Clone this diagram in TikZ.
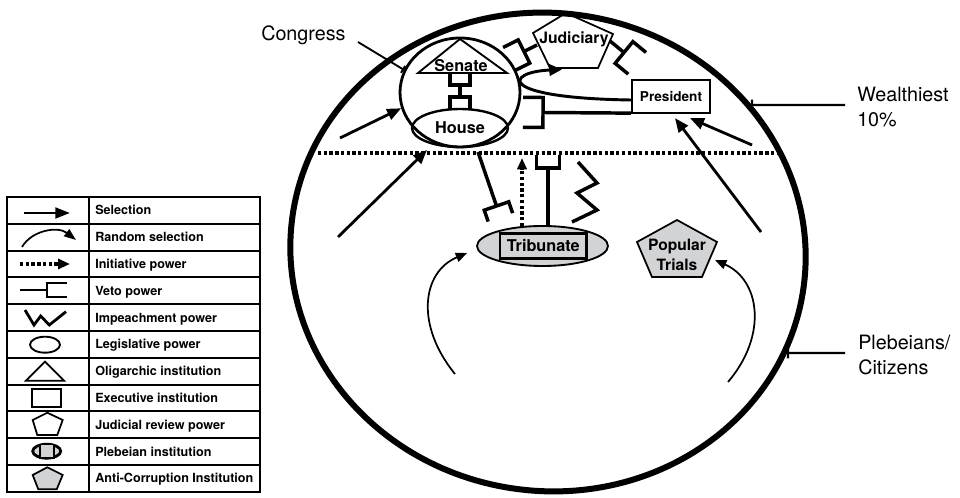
\documentclass[tikz,border=0pt]{standalone}
\usepackage{fontspec}
\setmainfont{TeX Gyre Heros}
\usetikzlibrary{arrows.meta,shapes.geometric,calc,intersections}
\definecolor{instgrey}{RGB}{210,211,213}

% veto symbol: stem from #2 to the bar centred at #3,
% bar half width #4, prongs of length #5 pointing away from #2
\newcommand\vetomark[5][vetoline]{%
  \draw[#1] (#2) -- (#3);
  \coordinate (vm-a) at ($(#3)!#4!90:(#2)$);
  \coordinate (vm-b) at ($(#3)!#4!-90:(#2)$);
  \coordinate (vm-p) at ($(#3)!#5!180:(#2)$);
  \coordinate (vm-c) at ($(vm-p)!#4!90:(#3)$);
  \coordinate (vm-d) at ($(vm-p)!#4!-90:(#3)$);
  \draw[#1] (vm-c) -- (vm-a) -- (vm-b) -- (vm-d);
}

\begin{document}
\begin{tikzpicture}[x=0.75pt,y=-0.75pt,
  bigoval/.style={line width=4.5pt},
  vetoline/.style={line width=2.6pt, line join=miter, line cap=butt},
  legveto/.style={line width=1.7pt, line join=miter},
  selarrow/.style={line width=2.1pt, -{Triangle[length=10.5pt,width=8.5pt]}},
  randarrow/.style={line width=1.3pt, -{Triangle[length=8.5pt,width=7pt]}},
  randthick/.style={line width=2.2pt, -{Triangle[length=9.5pt,width=8.5pt]}},
  dotline/.style={line width=2.5pt, dash pattern=on 2.5pt off 1.8pt},
  pointer/.style={line width=1.6pt, -{Bar[width=8pt]}},
  bigtext/.style={font=\fontsize{14.8}{18.5}\selectfont, inner sep=0pt, align=left},
  insttext/.style={font=\fontsize{12.2}{14}\selectfont\bfseries, inner sep=0pt},
  legtext/.style={font=\fontsize{9.45}{11}\selectfont\bfseries, inner sep=0pt, anchor=base west},
  grid/.style={line width=1.4pt},
  thinshape/.style={line width=1.3pt, line join=miter}
]
\useasboundingbox (0,0) rectangle (960,498);

% ---------------- society ----------------
\coordinate (society) at (548,252);
\draw[bigoval, name path=oval, rotate around={-8:(society)}] (society) ellipse [x radius=258, y radius=239];

% boundary between the wealthy and the citizens
\coordinate (divL) at (318,153);
\coordinate (divR) at (781,153);
\draw[dotline] (divL) -- (divR);

% ---------------- Congress ----------------
\node[draw, ellipse, line width=2.1pt, minimum width=90pt, minimum height=81.75pt, inner sep=0pt] (congress) at (460,92.5) {};
\coordinate (senA) at (460,39);
\coordinate (senB) at (507,73);
\coordinate (senC) at (418,73);
\draw[line width=1.4pt, line join=miter] (senA) -- (senB) -- (senC) -- cycle;
\node[insttext] (senate) at (461,66) {Senate};
\node[draw, ellipse, line width=1.8pt, minimum width=72pt, minimum height=28.5pt, inner sep=0pt, insttext] (house) at (460,128) {House};

% mutual veto between Senate and House
\coordinate (shmid) at (460,91);
\coordinate (shtop) at (460,85);
\coordinate (shbot) at (460,97);
\vetomark{shmid}{shtop}{7.5pt}{9pt}
\vetomark{shmid}{shbot}{7.5pt}{9pt}

% ---------------- Judiciary ----------------
\coordinate (j1) at (566,13);
\coordinate (j2) at (613,34);
\coordinate (j3) at (598,68);
\coordinate (j4) at (550,68);
\coordinate (j5) at (533,33);
\draw[thinshape] (j1) -- (j2) -- (j3) -- (j4) -- (j5) -- cycle;
\node[font=\fontsize{11.8}{13}\selectfont\bfseries, inner sep=0pt] (judiciary) at (574,39.5) {Judiciary};

% ---------------- President ----------------
\node[draw, line width=1.7pt, minimum width=58.5pt, minimum height=24.75pt, inner sep=0pt,
      font=\fontsize{10.2}{12}\selectfont\bfseries] (president) at (671,96.5) {President};

% ---------------- Tribunate ----------------
\node[draw, ellipse, fill=instgrey, line width=1.4pt, minimum width=98.25pt, minimum height=30pt, inner sep=0pt] (tribunate) at (542.5,246) {};
\node[draw, fill=instgrey, line width=1.9pt, minimum width=65pt, minimum height=18.75pt, inner sep=0pt, insttext] (tribbox) at (543.3,245.8) {Tribunate};

% ---------------- Popular Trials ----------------
\coordinate (t1) at (677,220);
\coordinate (t2) at (717,242);
\coordinate (t3) at (702,277);
\coordinate (t4) at (652,277);
\coordinate (t5) at (637,242);
\draw[thinshape, fill=instgrey] (t1) -- (t2) -- (t3) -- (t4) -- (t5) -- cycle;
\node[font=\fontsize{11.7}{15}\selectfont\bfseries, inner sep=0pt, align=center] (trials) at (677,255) {Popular\\Trials};

% ---------------- outside labels ----------------
\node[bigtext, anchor=west] (congresslabel) at (261,35) {Congress};
\coordinate (congressptr) at (358,42);
\draw[line width=1.4pt, -{Bar[width=6pt]}] (congressptr) -- (congress.158);

\node[bigtext, anchor=west] (wealthy) at (857,107) {Wealthiest\\10\%};
\coordinate (wealthyptr) at (845,105);
\path[name path=wline] (wealthyptr) -- +(-200,0);
\path[name intersections={of=oval and wline, by={wealthyhit}}];
\draw[pointer] (wealthyptr) -- ($(wealthyhit)+(3,0)$);

\node[bigtext, anchor=west] (plebs) at (858,355) {Plebeians/\\Citizens};
\coordinate (plebsptr) at (845,353);
\path[name path=pline] (plebsptr) -- +(-200,0);
\path[name intersections={of=oval and pline, by={plebshit}}];
\draw[pointer] (plebsptr) -- ($(plebshit)+(3,0)$);

% ---------------- selection ----------------
\coordinate (sel1) at (340,138);
\draw[selarrow] (sel1) -- (congress.195);
\coordinate (sel2) at (338,237);
\coordinate (sel2tip) at (427,150);
\draw[selarrow] (sel2) -- (sel2tip);
\coordinate (sel3) at (752,145);
\draw[selarrow] (sel3) -- ($(president.south)+(19,4)$);
\coordinate (sel4) at (761,232);
\draw[selarrow] (sel4) -- ($(president.south)+(4,4)$);

% ---------------- random selection ----------------
\draw[randthick] ($(president.west)+(0,3.5)$) .. controls (495,98) and (505,72) .. ($(j4)+(12,1.5)$);
\coordinate (lot1) at (455,374);
\draw[randarrow] (lot1) .. controls (415,325) and (422,272) .. ($(tribunate.west)+(-9,7)$);
\coordinate (lot2) at (728,382);
\draw[randarrow] (lot2) .. controls (768,335) and (760,280) .. ($(trials)+(38,5)$);

% ---------------- vetoes ----------------
\coordinate (jvs) at (537,45);
\coordinate (jvb) at (524,51.5);
\vetomark{jvs}{jvb}{9.75pt}{12.75pt}
\coordinate (jps) at (610,41);
\coordinate (jpb) at (624,52.5);
\vetomark{jps}{jpb}{10.5pt}{12.75pt}
\coordinate (pcs) at ($(president.south west)+(0,-1)$);
\coordinate (pcb) at (543,112.5);
\vetomark{pcs}{pcb}{11.25pt}{15pt}
\coordinate (hts) at (478,152);
\coordinate (htb) at (496.5,206);
\vetomark{hts}{htb}{9.7pt}{9pt}
\coordinate (tws) at (548,226);
\coordinate (twb) at (548,168);
\vetomark{tws}{twb}{8.6pt}{9.75pt}

% ---------------- initiative ----------------
\draw[dotline, -{Triangle[length=8.5pt,width=7pt]}] ($(tribunate.north)+(-20.5,1)$) -- (522,158);

% ---------------- impeachment ----------------
\draw[vetoline] (572,222) -- (597,210) -- (577,193) -- (597,183) -- (578,162);

% ================= legend =================
\draw[grid] (7,197) rectangle (260,492);
\draw[grid] (89,197) -- (89,492);
\foreach \k in {1,...,10} \draw[grid] (7,{197+26.8*\k}) -- (260,{197+26.8*\k});

\node[legtext] (lg1)  at (95,214.9) {Selection};
\node[legtext] (lg2)  at (95,241.7) {Random selection};
\node[legtext] (lg3)  at (95,268.5) {Initiative power};
\node[legtext] (lg4)  at (95,295.3) {Veto power};
\node[legtext] (lg5)  at (95,322.1) {Impeachment power};
\node[legtext] (lg6)  at (95,348.9) {Legislative power};
\node[legtext] (lg7)  at (95,375.7) {Oligarchic institution};
\node[legtext] (lg8)  at (95,402.5) {Executive institution};
\node[legtext] (lg9)  at (95,429.3) {Judicial review power};
\node[legtext] (lg10) at (95,456.1) {Plebeian institution};
\node[legtext] (lg11) at (95,482.9) {Anti-Corruption Institution};

% legend symbols
\draw[line width=2.1pt, -{Triangle[length=11pt,width=8pt]}] (24,213) -- (70,213);
\draw[line width=1.3pt, -{Triangle[length=9pt,width=6.5pt]}] (22,247) .. controls (32,230) and (58,226) .. (76,240);
\draw[dotline, -{Triangle[length=9pt,width=7.5pt]}] (20,264) -- (70,264);
\coordinate (lvs) at (20,290.3);
\coordinate (lvb) at (47,290.3);
\vetomark[legveto]{lvs}{lvb}{5.25pt}{15pt}
\draw[line width=2.1pt, line join=miter] (25,310) -- (34,325) -- (40.7,316) -- (49.3,325) -- (66,311.7);
\draw[line width=1.4pt] (45,344.7) ellipse [x radius=15, y radius=8];
\draw[thinshape] (45,361.7) -- (64,380.7) -- (26,380.7) -- cycle;
\draw[line width=1.7pt] (32.3,389.3) rectangle (60.7,407.3);
\draw[thinshape] (47.3,412.7) -- (62.7,420) -- (57.3,435) -- (37.3,435) -- (32.7,420) -- cycle;
\draw[line width=2.1pt, fill=instgrey] (46.7,451.2) ellipse [x radius=14, y radius=7];
\draw[line width=1.3pt, fill=instgrey] (40,444.4) rectangle (54,458);
\draw[thinshape, fill=instgrey] (47.3,467.3) -- (62.7,475) -- (56.7,489.3) -- (38.3,489.3) -- (32.7,475) -- cycle;
\end{tikzpicture}
\end{document}
